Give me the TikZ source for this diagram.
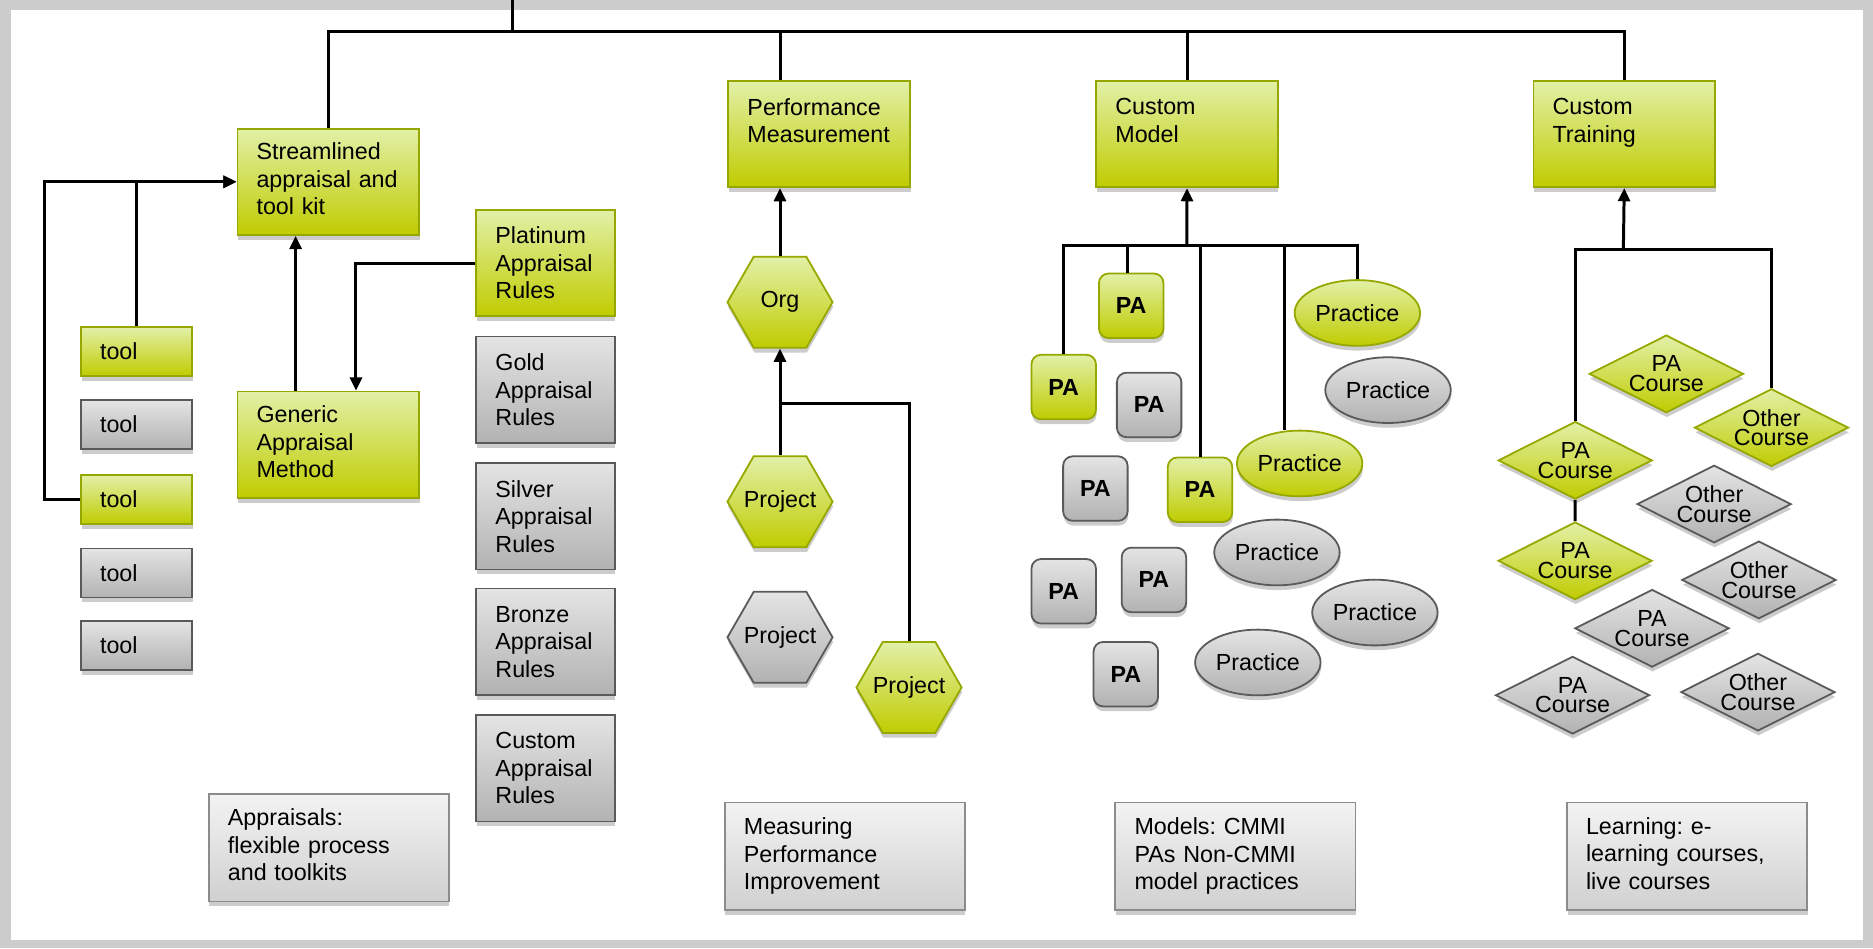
\documentclass[tikz,border=0pt]{standalone}
\usepackage{fontspec}
\setmainfont{Liberation Sans}
\frenchspacing
\usetikzlibrary{shapes.geometric,arrows.meta,shadows}
\definecolor{gtop}{RGB}{226,240,168}
\definecolor{gbot}{RGB}{192,204,0}
\definecolor{gbrd}{RGB}{150,168,0}
\definecolor{ytop}{RGB}{228,228,228}
\definecolor{ybot}{RGB}{178,178,178}
\definecolor{ybrd}{RGB}{90,90,90}
\definecolor{ltop}{RGB}{243,243,243}
\definecolor{lbot}{RGB}{208,208,208}
\definecolor{lbrd}{RGB}{140,140,140}
\definecolor{framecol}{RGB}{204,204,204}
\newcommand{\zw}[1]{\makebox[0pt]{#1}}
\newcommand{\lowstrut}{\rule[-5pt]{0pt}{5pt}}
\begin{document}
\begin{tikzpicture}[x=1pt,y=-1pt,
  font=\fontsize{19.5pt}{23pt}\selectfont,
  shad/.style={drop shadow={shadow xshift=0.5pt,shadow yshift=-4pt,opacity=0.2,fill=black}},
  grn/.style={top color=gtop,bottom color=gbot,draw=gbrd,line width=1.5pt},
  gry/.style={top color=ytop,bottom color=ybot,draw=ybrd,line width=1.5pt},
  lgr/.style={top color=ltop,bottom color=lbot,draw=lbrd,line width=1.5pt},
  bigbox/.style={rectangle,shad,anchor=north west,inner xsep=16pt,inner ysep=0pt,text width=120pt,minimum height=89pt,align=left},
  rulebox/.style={bigbox,text width=84pt},
  toolbox/.style={bigbox,text width=61pt,minimum height=41pt},
  legbox/.style={bigbox,text width=169pt,minimum height=90pt},
  hexa/.style={regular polygon,regular polygon sides=6,minimum size=88pt,inner sep=0pt,shad},
  pabox/.style={rectangle,rounded corners=8pt,minimum width=54pt,minimum height=54pt,inner sep=0pt,font=\fontsize{19.5pt}{23pt}\selectfont\bfseries,shad},
  prac/.style={ellipse,minimum width=105pt,minimum height=55pt,inner sep=0pt,shad},
  dia/.style={diamond,minimum width=129pt,minimum height=65pt,inner sep=0pt,aspect=2,align=center,font=\fontsize{19.5pt}{16.5pt}\selectfont,shad},
  conn/.style={line width=2.5pt,draw=black},
  arr/.style={conn,-{Triangle[length=11pt,width=10pt]}},
]
\useasboundingbox (0,0) rectangle (1568,794);
\fill[framecol] (0,0) rectangle (1568,794);
\fill[white] (9,8.5) rectangle (1560,787);

% main boxes
\node[bigbox,grn] (stream) at (198,107) {Streamlined\\appraisal and\\tool kit\lowstrut};
\node[bigbox,grn] (perf) at (609,67) {Performance\\Measurement\\\mbox{}};
\node[bigbox,grn] (model) at (917,67) {Custom\\Model\\\mbox{}};
\node[bigbox,grn] (train) at (1283,67) {Custom\\Training\\\mbox{}};

% appraisal rules
\node[rulebox,grn] (plat) at (398,175) {Platinum\\Appraisal\\Rules};
\node[rulebox,gry] (gold) at (398,281) {Gold\\Appraisal\\Rules};
\node[rulebox,gry] (silver) at (398,387) {Silver\\Appraisal\\Rules};
\node[rulebox,gry] (bronze) at (398,492) {Bronze\\Appraisal\\Rules};
\node[rulebox,gry] (custr) at (398,598) {Custom\\Appraisal\\Rules};
\node[bigbox,grn] (gen) at (198,327) {Generic\\Appraisal\\Method\lowstrut};

% tools
\node[toolbox,grn] (tool1) at (67,273) {tool};
\node[toolbox,gry] (tool2) at (67,334) {tool};
\node[toolbox,grn] (tool3) at (67,397) {tool};
\node[toolbox,gry] (tool4) at (67,458.5) {tool};
\node[toolbox,gry] (tool5) at (67,519) {tool};

% legends
\node[legbox,lgr] (leg1) at (174,664) {Appraisals:\\flexible process\\and toolkits\lowstrut};
\node[legbox,lgr] (leg2) at (606,671) {Measuring\\Performance\\Improvement};
\node[legbox,lgr] (leg3) at (933,671) {Models: CMMI\\PAs Non-CMMI\\model practices};
\node[legbox,lgr] (leg4) at (1311,671) {Learning: e-\\learning courses,\\live courses\lowstrut};

% hexagons
\node[hexa,grn] (org) at (653,253) {\zw{Org}};
\node[hexa,grn] (proj1) at (653,420) {\zw{Project}};
\node[hexa,gry] (proj2) at (653,533.5) {\zw{Project}};
\node[hexa,grn] (proj3) at (761,575.5) {\zw{Project}};

% PA boxes
\node[pabox,grn] (pa1) at (947,256) {PA};
\node[pabox,grn] (pa2) at (890.5,324) {PA};
\node[pabox,gry] (pa3) at (962,339) {PA};
\node[pabox,gry] (pa4) at (917,409) {PA};
\node[pabox,grn] (pa5) at (1004.6,410) {PA};
\node[pabox,gry] (pa6) at (890.5,495) {PA};
\node[pabox,gry] (pa7) at (966,485.5) {PA};
\node[pabox,gry] (pa8) at (942.5,564.4) {PA};

% practices
\node[prac,grn] (pr1) at (1136.3,262) {Practice};
\node[prac,gry] (pr2) at (1162,326.6) {Practice};
\node[prac,grn] (pr3) at (1088,388) {Practice};
\node[prac,gry] (pr4) at (1069,462.5) {Practice};
\node[prac,gry] (pr5) at (1151,512.8) {Practice};
\node[prac,gry] (pr6) at (1053,554.6) {Practice};

% courses
\node[dia,grn] (d1) at (1395,313) {PA\\Course};
\node[dia,grn] (d2) at (1483,358) {Other\\Course};
\node[dia,grn] (d3) at (1318.7,385.4) {PA\\Course};
\node[dia,gry] (d4) at (1435,422) {Other\\Course};
\node[dia,grn] (d5) at (1318.6,469.5) {PA\\Course};
\node[dia,gry] (d6) at (1472.5,485.5) {Other\\Course};
\node[dia,gry] (d7) at (1383,526) {PA\\Course};
\node[dia,gry] (d8) at (1316.5,582) {PA\\Course};
\node[dia,gry] (d9) at (1471.7,579.4) {Other\\Course};

% top trunk
\coordinate (ttop) at (429,0);
\coordinate (tbus) at (429,26.5);
\draw[conn] (ttop) -- (tbus);
\draw[conn] (stream.north) |- (train.north |- tbus) -- (train.north);
\coordinate (pdrop) at (perf.north -| org.center);
\draw[conn] (pdrop) -- (pdrop |- tbus);
\draw[conn] (model.north) -- (model.north |- tbus);

% appraisal connectors
\draw[arr] (tool1.north) |- (stream.west);
\draw[arr] (tool3.west) -- ++(-30,0) |- (stream.west);
\draw[arr] ([xshift=49.5pt]gen.north west) -- ([xshift=49.5pt]stream.south west);
\draw[arr] (plat.west) -| ([xshift=100pt]gen.north west);

% measurement connectors
\draw[arr] (org.north) -- (org.north |- perf.south);
\draw[arr] (proj1.north) -- (org.south);
\coordinate (pj) at (653,338);
\draw[conn] (proj3.north) |- (pj);

% model connectors
\coordinate (mbus) at (993.5,205.7);
\draw[arr] (mbus) -- (model.south);
\draw[conn] (pa2.north) |- (pr1.north |- mbus) -- (pr1.north);
\draw[conn] ([xshift=-3pt]pa1.north) -- ([xshift=-3pt]pa1.north |- mbus);
\draw[conn] (pa5.north) -- (pa5.north |- mbus);
\draw[conn] ([xshift=-13pt]pr3.north) -- ([xshift=-13pt]pr3.north |- mbus);

% training connectors
\coordinate (tbus2) at (1359,208.5);
\draw[arr] (tbus2) -- (train.south);
\draw[conn] (d3.north) |- (d2.north |- tbus2) -- (d2.north);
\draw[conn] (d3.south) -- (d5.north);
\end{tikzpicture}
\end{document}
